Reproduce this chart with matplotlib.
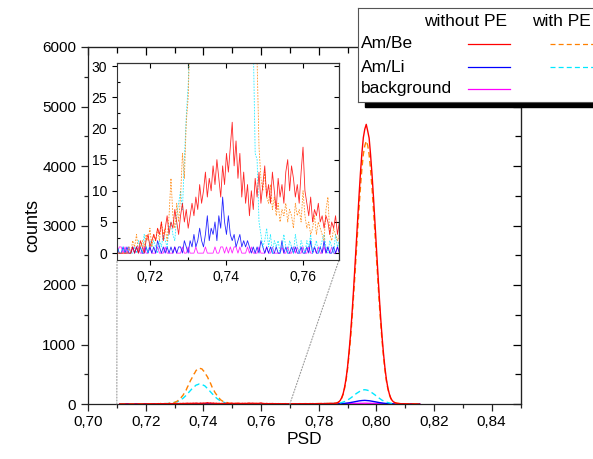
import numpy as np
import matplotlib
matplotlib.use("Agg")
import matplotlib.pyplot as plt
from matplotlib.ticker import MultipleLocator, FuncFormatter
from matplotlib.patches import Rectangle, ConnectionPatch
from matplotlib.lines import Line2D

plt.rcParams['font.family'] = ['Liberation Sans', 'DejaVu Sans']

# DATA ------------------------------------------------------------------------
# PSD histograms, bins of 0.0005 starting at 0.711
bin_start = 0.711
bin_width = 0.0005

am_be = [0,0,0,0,0,0,0,0,0,1,
         0,1,0,2,1,0,2,3,1,2,
         3,2,4,3,5,2,4,6,3,5,
         4,7,5,3,6,8,5,7,4,6,
         8,6,9,7,11,8,10,13,9,12,
         10,14,11,15,12,9,14,11,16,13,
         17,21,14,18,12,16,9,13,8,11,
         6,10,7,12,9,13,8,11,14,9,
         11,8,13,10,7,12,9,11,8,13,
         15,10,14,12,9,11,8,13,17,10,
         8,6,9,5,7,6,8,5,6,4,
         6,5,3,5,4,6,3,5,4,3,
         4,3,5,3,4,6,4,5,7,6,
         5,4,6,5,7,4,6,5,7,6,
         8,6,9,7,8,10,9,11,10,12,
         14,22,36,62,108,175,285,425,615,860,
         1140,1470,1840,2240,2660,3090,3500,3890,4220,4480,
         4620,4700,4590,4470,4190,3860,3480,3060,2630,2210,
         1820,1450,1120,840,600,410,270,170,100,58,
         34,20,13,9,7,5,4,5,3,2,
         3,2,1,2,1,0,1,0,0]

am_be_pe = [0,0,0,0,0,0,0,1,0,2,
            1,3,0,1,2,1,3,2,4,1,
            3,2,4,2,5,3,4,2,6,12,
            6,4,8,5,9,16,12,21,25,36,
            50,70,88,122,150,195,230,286,330,390,
            432,488,520,565,580,602,596,590,560,538,
            488,450,390,348,288,248,196,162,122,98,
            70,55,38,34,31,17,12,10,13,9,
            8,11,7,9,6,8,5,7,6,8,
            5,7,6,4,8,6,7,5,10,6,
            4,5,3,4,6,3,5,4,3,2,
            7,9,3,2,4,3,2,3,1,2,
            3,2,4,3,2,4,3,5,4,3,
            5,4,6,5,4,6,5,7,6,8,
            7,6,8,7,9,8,10,9,11,12,
            14,20,33,57,100,163,266,398,577,806,
            1070,1380,1730,2105,2500,2900,3290,3650,3960,4200,
            4340,4420,4350,4190,3940,3630,3270,2880,2470,2080,
            1710,1360,1050,790,565,385,255,160,95,56,
            34,22,15,11,9,7,6,5,4,3,
            4,3,2,3,2,1,2,1,0]

am_li = [0,1,0,0,1,0,1,0,0,1,
         0,1,0,1,0,0,1,0,1,0,
         1,0,2,1,0,1,0,1,0,1,
         0,1,0,1,1,0,2,1,0,2,
         1,3,1,2,4,2,1,3,6,2,
         4,3,5,2,6,4,9,5,3,6,
         3,2,3,1,2,3,1,2,1,2,
         1,0,1,0,1,0,2,1,0,1,
         0,1,0,0,1,0,0,2,0,1,
         0,0,1,0,1,0,0,1,0,0,
         1,0,2,0,1,0,0,1,0,2,
         0,1,0,0,1,0,1,0,0,1,
         0,1,0,1,0,1,1,0,2,1,
         1,2,1,2,1,2,3,2,1,3,
         2,3,2,3,2,4,3,4,3,5,
         4,5,4,6,7,8,10,13,16,20,
         24,29,33,38,43,48,52,55,58,59,
         61,59,57,55,51,48,43,38,33,28,
         24,20,16,13,10,8,6,4,3,2,
         2,1,2,1,0,1,0,1,0,0,
         0,0,1,0,0,0,0,0,0]

am_li_pe = [0,1,0,0,1,0,0,1,0,0,
            1,0,2,1,0,3,1,0,2,1,
            2,1,0,2,1,3,2,1,4,5,
            3,2,6,8,10,7,15,22,27,36,
            38,48,62,79,98,120,144,171,198,225,
            250,280,296,318,325,336,332,330,316,305,
            281,257,230,203,176,150,125,102,82,65,
            50,38,34,16,15,5,3,1,2,4,
            1,3,0,2,1,2,0,1,3,1,
            0,2,1,0,3,1,0,2,1,0,
            2,1,3,0,1,2,0,1,2,3,
            1,0,2,1,0,3,1,2,0,1,
            2,1,0,2,1,3,2,1,2,3,
            2,3,2,3,4,3,4,5,4,5,
            6,5,7,6,8,7,8,9,8,10,
            8,10,14,18,25,32,41,52,65,80,
            97,115,134,152,174,190,208,220,232,237,
            240,236,230,222,206,192,172,154,133,115,
            95,80,63,52,40,31,24,18,13,9,
            7,5,4,3,4,2,3,1,2,1,
            1,0,1,0,0,1,0,0,0]

background = [1,0,1,1,0,1,0,1,0,1,
              0,1,1,0,0,1,0,0,1,0,
              0,0,1,0,0,0,1,0,0,0,
              0,1,0,0,0,1,0,0,1,0,
              0,0,1,0,0,0,0,1,0,0,
              0,0,1,0,0,1,1,0,1,0,
              1,0,1,1,0,1,0,0,0,1,
              0,1,0,0,0,1,0,0,0,1,
              0,0,1,0,0,0,0,1,0,0,
              1,0,0,1,0,1,0,0,1,0,
              0,1,0,0,1,0,1,0,0,1,
              0,1,0,1,0,0,1,0,1,0,
              0,1,0,0,1,0,1,0,0,1,
              0,1,1,0,1,2,1,1,2,1,
              2,1,2,3,2,3,2,3,4,3,
              4,3,5,4,5,6,5,7,6,8,
              7,9,8,10,9,11,10,12,11,12,
              13,12,12,11,12,10,11,9,10,8,
              9,7,8,6,7,5,6,4,5,3,
              4,2,3,2,2,1,2,1,1,0,
              1,0,0,1,0,0,0,0,0]

row_labels = ['Am/Be', 'Am/Li', 'background']
col_labels = ['without PE', 'with PE']

# series: values, colour, dashed?
series = [(background, '#ff00ff', False),
          (am_li, '#0000ff', False),
          (am_li_pe, '#00e8ff', True),
          (am_be_pe, '#ff8000', True),
          (am_be, '#ff0000', False)]


def bins(vals):
    return bin_start + bin_width * np.arange(len(vals))


comma = FuncFormatter(lambda v, p: ('%.2f' % v).replace('.', ','))

# FIGURE ----------------------------------------------------------------------
fig = plt.figure(figsize=(5.93, 4.59), dpi=100)
W, H = 593.0, 459.0

ax = fig.add_axes([88/W, 1-404/H, (520.5-88)/W, (404-47)/H], zorder=0)
for vals, col, dashed in series:
    ax.plot(bins(vals), vals, color=col, lw=1.0,
            ls=(0, (4, 2.5)) if dashed else '-')
ax.set_xlim(0.70, 0.85)
ax.set_ylim(0, 6000)
ax.xaxis.set_major_locator(MultipleLocator(0.02))
ax.xaxis.set_minor_locator(MultipleLocator(0.01))
ax.yaxis.set_major_locator(MultipleLocator(1000))
ax.yaxis.set_minor_locator(MultipleLocator(500))
ax.xaxis.set_major_formatter(comma)
ax.tick_params(which='both', direction='out', labelsize=11, width=0.9, color='#222222')
ax.tick_params(which='major', length=5)
ax.tick_params(which='minor', length=3)
ax.tick_params(axis='x', pad=3)
for s in ax.spines.values():
    s.set_linewidth(0.9)
    s.set_color('#222222')
ax.set_xlabel('PSD', fontsize=12.5, labelpad=2)
ax.set_ylabel('counts', fontsize=13, labelpad=1)

# mirrored ticks pointing inwards on top / right
secx = ax.secondary_xaxis('top')
secx.xaxis.set_major_locator(MultipleLocator(0.02))
secx.xaxis.set_minor_locator(MultipleLocator(0.01))
secx.tick_params(which='both', direction='in', labeltop=False, width=0.9)
secx.tick_params(which='major', length=6)
secx.tick_params(which='minor', length=4)
secy = ax.secondary_yaxis('right')
secy.yaxis.set_major_locator(MultipleLocator(1000))
secy.yaxis.set_minor_locator(MultipleLocator(500))
secy.tick_params(which='both', direction='in', labelright=False, width=0.9)
secy.tick_params(which='major', length=6)
secy.tick_params(which='minor', length=4)

# INSET -----------------------------------------------------------------------
ins = fig.add_axes([117/W, 1-260/H, 222/W, 197/H], zorder=2)
for vals, col, dashed in series:
    ins.plot(bins(vals), vals, color=col, lw=0.6, alpha=0.85,
             ls=(0, (2, 1.5)) if dashed else '-')
ins.set_xlim(0.7114, 0.7694)
ins.set_ylim(-1.1, 30.5)
ins.xaxis.set_major_locator(MultipleLocator(0.02))
ins.xaxis.set_minor_locator(MultipleLocator(0.01))
ins.yaxis.set_major_locator(MultipleLocator(5))
ins.yaxis.set_minor_locator(MultipleLocator(2.5))
ins.xaxis.set_major_formatter(comma)
ins.tick_params(which='major', direction='out', length=3.5, labelsize=10, width=0.8)
ins.tick_params(which='minor', direction='in', length=2, width=0.8)
for s in ins.spines.values():
    s.set_linewidth(0.8)
    s.set_color('#333333')
isx = ins.secondary_xaxis('top')
isx.xaxis.set_major_locator(MultipleLocator(0.01))
isx.tick_params(direction='in', length=3.5, labeltop=False, width=0.8)
isy = ins.secondary_yaxis('right')
isy.yaxis.set_major_locator(MultipleLocator(5))
isy.tick_params(direction='in', length=3.5, labelright=False, width=0.8)

for xa, xb in [(0.71, 0), (0.77, 1)]:
    con = ConnectionPatch(xyA=(xa, 0), coordsA=ax.transData, xyB=(xb, 0),
                          coordsB=ins.transAxes, ls=':', color='#9a9a9a', lw=0.8)
    con.set_zorder(1)
    fig.add_artist(con)

# LEGEND (table style, with shadow) ------------------------------------------
shadow = Rectangle((365/W, 1-107/H), (605-365)/W, (107-14)/H,
                   transform=fig.transFigure, color='black', zorder=3)
fig.add_artist(shadow)
leg = fig.add_axes([358/W, 1-102/H, (600-358)/W, 94/H], zorder=4)
leg.set_xlim(358, 600)
leg.set_ylim(102, 8)
leg.set_xticks([])
leg.set_yticks([])
for s in leg.spines.values():
    s.set_linewidth(0.8)
    s.set_color('#555555')
leg.text(466, 22, col_labels[0], fontsize=12.5, ha='center', va='center')
leg.text(561, 22, col_labels[1], fontsize=12.5, ha='center', va='center')
row_y = [44, 67, 89]
for lab, y in zip(row_labels, row_y):
    leg.text(361, y, lab, fontsize=12.5, ha='left', va='center')
# sample lines: without PE column then with PE column
leg.add_line(Line2D([468, 510], [row_y[0]]*2, color='#ff0000', lw=0.9))
leg.add_line(Line2D([468, 510], [row_y[1]]*2, color='#0000ff', lw=0.9))
leg.add_line(Line2D([468, 510], [row_y[2]]*2, color='#ff00ff', lw=0.9))
leg.add_line(Line2D([550, 598], [row_y[0]]*2, color='#ff8000', lw=0.9, ls=(0, (4, 2.5))))
leg.add_line(Line2D([550, 598], [row_y[1]]*2, color='#00e8ff', lw=0.9, ls=(0, (4, 2.5))))

fig.savefig('out.png', dpi=100)
